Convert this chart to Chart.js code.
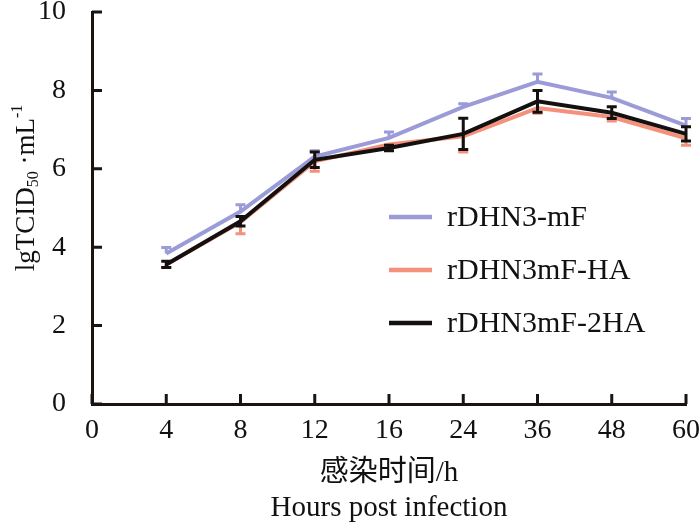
<!DOCTYPE html>
<html>
<head>
<meta charset="utf-8">
<script src="https://cdn.jsdelivr.net/npm/chart.js@4.4.1/dist/chart.umd.min.js"></script>
<style>
  html, body { margin: 0; padding: 0; background: #fff; }
  #wrap { width: 700px; height: 526px; }
</style>
</head>
<body>
<div id="wrap"><canvas id="infChart" width="700" height="526"></canvas></div>
<script>
// hours post infection (evenly spaced categories)
const hours = ['0', '4', '8', '12', '16', '24', '36', '48', '60'];
const yTicks = [0, 2, 4, 6, 8, 10];

const mF = [null, 3.84, 4.91, 6.31, 6.79, 7.58, 8.22, 7.81, 7.10];
const mFErr = [0, 0.15, 0.17, 0.15, 0.15, 0.08, 0.20, 0.15, 0.18];

const mFHA = [null, 3.56, 4.64, 6.19, 6.62, 6.83, 7.55, 7.32, 6.78];
const mFHAErr = [0, 0.08, 0.30, 0.25, 0.10, 0.40, 0.13, 0.10, 0.18];

const mF2HA = [null, 3.56, 4.66, 6.23, 6.53, 6.89, 7.72, 7.43, 6.89];
const mF2HAErr = [0, 0.08, 0.12, 0.20, 0.07, 0.40, 0.28, 0.15, 0.18];

const serif = '"Liberation Serif", "Times New Roman", serif';
const cjk = '"Liberation Serif", "Noto Sans CJK SC", serif';

// error bars: dir 1 = up only, -1 = down only, 0 = both
const errorBars = {
    id: 'errorBars',
    afterDatasetDraw(chart, args) {
        const ds = chart.data.datasets[args.index];
        if (!ds.err) return;
        const ctx = chart.ctx;
        const y = chart.scales.y;
        ctx.save();
        ctx.strokeStyle = ds.borderColor;
        ctx.lineWidth = 3;
        args.meta.data.forEach((pt, i) => {
            const v = ds.data[i];
            if (v === null) return;
            const e = ds.err[i];
            const top = ds.dir >= 0 ? y.getPixelForValue(v + e) : pt.y;
            const bot = ds.dir <= 0 ? y.getPixelForValue(v - e) : pt.y;
            ctx.beginPath();
            ctx.moveTo(pt.x, top);
            ctx.lineTo(pt.x, bot);
            if (ds.dir >= 0) { ctx.moveTo(pt.x - 5, top); ctx.lineTo(pt.x + 5, top); }
            if (ds.dir <= 0) { ctx.moveTo(pt.x - 5, bot); ctx.lineTo(pt.x + 5, bot); }
            ctx.stroke();
        });
        ctx.restore();
    }
};

// inward ticks, legend and y title
const decor = {
    id: 'decor',
    afterDraw(chart) {
        const ctx = chart.ctx;
        const a = chart.chartArea;
        const xs = chart.scales.x, ys = chart.scales.y;
        ctx.save();
        ctx.strokeStyle = '#1a1410';
        ctx.lineWidth = 3;
        ctx.beginPath();
        xs.ticks.forEach((t, i) => {
            const px = xs.getPixelForTick(i);
            ctx.moveTo(px, a.bottom);
            ctx.lineTo(px, a.bottom - 10);
        });
        ys.ticks.forEach((t, i) => {
            const py = ys.getPixelForTick(i);
            ctx.moveTo(a.left, py);
            ctx.lineTo(a.left + 10, py);
        });
        ctx.stroke();

        // legend
        const rows = [217, 270, 323];
        chart.data.datasets.forEach((ds, i) => {
            ctx.strokeStyle = ds.borderColor;
            ctx.lineWidth = 4.5;
            ctx.beginPath();
            ctx.moveTo(389, rows[i]);
            ctx.lineTo(432, rows[i]);
            ctx.stroke();
            ctx.fillStyle = '#111';
            ctx.font = '30px ' + serif;
            ctx.textBaseline = 'middle';
            ctx.textAlign = 'left';
            ctx.fillText(ds.label, 447, rows[i] + 1);
        });

        // y title with sub/superscript
        ctx.translate(27, 188);
        ctx.rotate(-Math.PI / 2);
        ctx.fillStyle = '#111';
        ctx.textBaseline = 'middle';
        const parts = [
            ['lgTCID', 27, 0],
            ['50', 16, 7],
            [' \u00b7mL', 27, 0],
            ['-1', 16, -9]
        ];
        let w = 0;
        parts.forEach(p => { ctx.font = p[1] + 'px ' + serif; w += ctx.measureText(p[0]).width; });
        let x = -w / 2;
        parts.forEach(p => {
            ctx.font = p[1] + 'px ' + serif;
            ctx.fillText(p[0], x, p[2]);
            x += ctx.measureText(p[0]).width;
        });
        ctx.restore();
    }
};

const ctx = document.getElementById('infChart').getContext('2d');
new Chart(ctx, {
    type: 'line',
    data: {
        labels: hours,
        datasets: [
            { label: 'rDHN3-mF', data: mF, err: mFErr, dir: 1, borderColor: '#9b9bd8', order: 3 },
            { label: 'rDHN3mF-HA', data: mFHA, err: mFHAErr, dir: -1, borderColor: '#f5907a', order: 2 },
            { label: 'rDHN3mF-2HA', data: mF2HA, err: mF2HAErr, dir: 0, borderColor: '#141010', order: 1 }
        ].map(d => Object.assign(d, {
            borderWidth: 4,
            pointRadius: 0,
            tension: 0,
            fill: false,
            spanGaps: false
        }))
    },
    options: {
        responsive: false,
        animation: false,
        layout: { padding: { top: 12, right: 14, left: 0, bottom: 0 } },
        plugins: {
            legend: { display: false },
            tooltip: { enabled: false }
        },
        scales: {
            x: {
                type: 'category',
                offset: false,
                grid: { display: false },
                border: { display: true, color: '#1a1410', width: 3 },
                ticks: { color: '#111', font: { family: serif, size: 28 }, padding: 2, maxRotation: 0, autoSkip: false },
                title: {
                    display: true,
                    text: ['感染时间/h', 'Hours post infection'],
                    color: '#111',
                    font: { family: cjk, size: 29, lineHeight: 1.2 },
                    padding: { top: 4, bottom: 0 }
                },
                afterFit(scale) {
                    scale.height = 122;
                    scale.paddingLeft = 0;
                    scale.paddingRight = 0;
                }
            },
            y: {
                min: 0,
                max: 10,
                afterBuildTicks(scale) { scale.ticks = yTicks.map(v => ({ value: v })); },
                grid: { display: false },
                border: { display: true, color: '#1a1410', width: 3 },
                ticks: { color: '#111', font: { family: serif, size: 28 }, padding: 18 },
                afterFit(scale) {
                    scale.width = 92;
                    scale.paddingTop = 0;
                    scale.paddingBottom = 0;
                }
            }
        }
    },
    plugins: [errorBars, decor]
});
</script>
</body>
</html>
